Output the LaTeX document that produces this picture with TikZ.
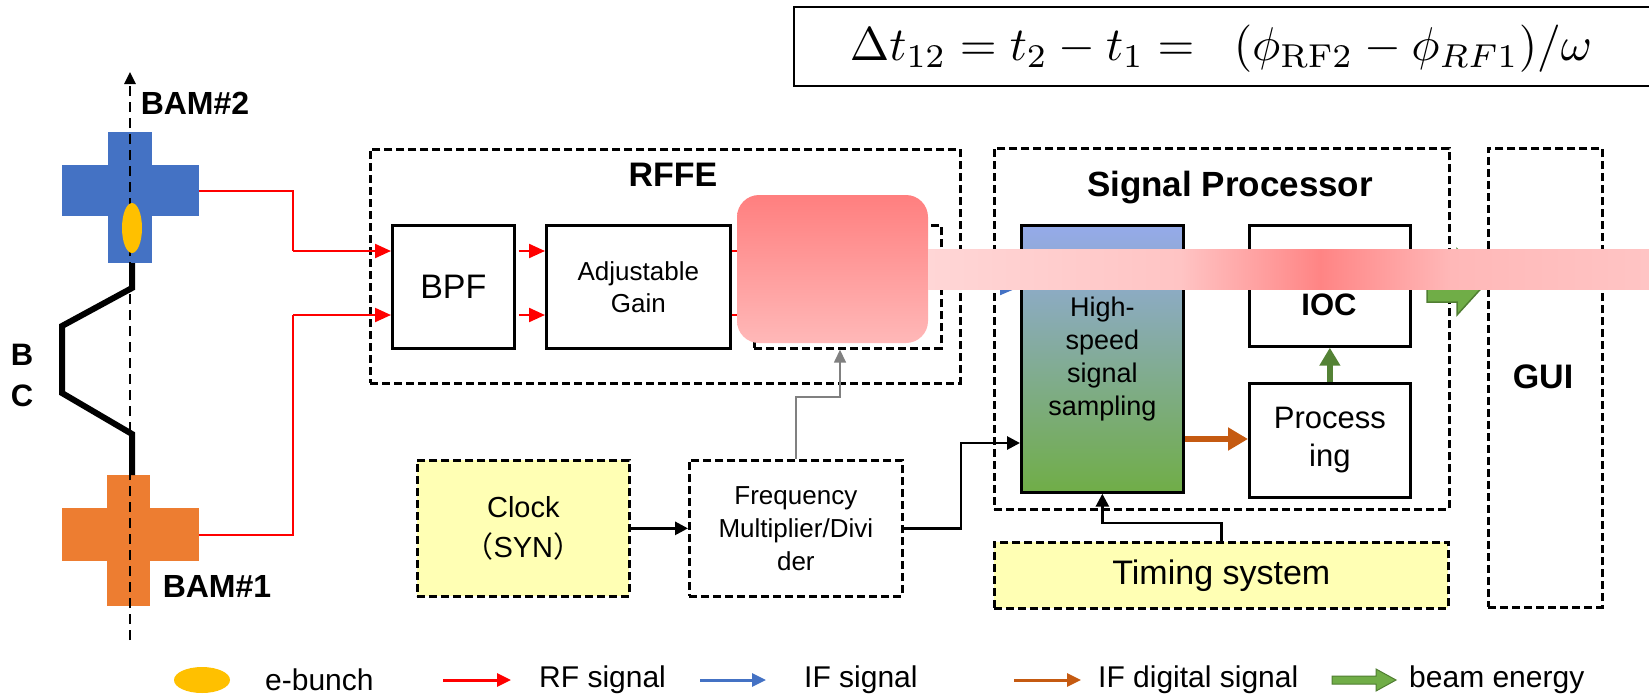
\documentclass[tikz,border=0pt]{standalone}
\usepackage[no-math]{fontspec}
\setmainfont{Liberation Sans}
\newfontfamily\cjk{Noto Sans CJK SC}
\usetikzlibrary{arrows.meta,shapes.geometric,calc}
\definecolor{bamblue}{RGB}{68,114,196}
\definecolor{bamorange}{RGB}{237,125,49}
\definecolor{bunch}{RGB}{255,192,0}
\definecolor{rfred}{RGB}{255,0,0}
\definecolor{ifblue}{RGB}{68,114,196}
\definecolor{digorange}{RGB}{197,90,17}
\definecolor{beamgreen}{RGB}{112,173,71}
\definecolor{beamgreendk}{RGB}{80,126,50}
\definecolor{arrowgreen}{RGB}{84,130,53}
\definecolor{clockyellow}{RGB}{255,255,180}
\definecolor{samptop}{RGB}{149,170,234}
\definecolor{sampbot}{RGB}{112,173,71}
\definecolor{arrgray}{RGB}{128,128,128}
\definecolor{pinkA}{RGB}{255,127,127}
\definecolor{pinkB}{RGB}{255,184,184}
\definecolor{pinkC}{RGB}{255,214,214}
\definecolor{pinkD}{RGB}{255,196,196}
\definecolor{pinkE}{RGB}{255,132,132}
\newcommand\setfs[1]{\fontsize{#1}{#1}\selectfont}
\begin{document}
\begin{tikzpicture}[x=1pt,y=-1pt,
  solidbox/.style={draw=black, line width=2.7pt, fill=white, inner sep=0pt, align=center, anchor=north west},
  dashbox/.style={draw=black, line width=2.7pt, dash pattern=on 8pt off 4pt, inner sep=0pt, align=center, anchor=north west},
  crossbar/.style={inner sep=0pt, anchor=north west},
  redarr/.style={draw=rfred, line width=2.2pt, -{Triangle[length=16pt,width=14pt]}},
  blkarr/.style={draw=black, line width=2.8pt, -{Triangle[length=13pt,width=13pt]}},
  grayarr/.style={draw=arrgray, line width=1.6pt, -{Triangle[length=13pt,width=12pt]}},
  lbl/.style={inner sep=0pt, font=\setfs{30}},
  boldlbl/.style={inner sep=0pt, font=\bfseries\setfs{34}}
]
\useasboundingbox (0,0) rectangle (1649,694);

% formula
\draw[line width=2pt] (1649,7) -- (794,7) -- (794,86) -- (1649,86);
\node[inner sep=0pt] (formula) at (1221,49)
  {\resizebox{742pt}{!}{$\Delta t_{12} = t_2 - t_1 = \;\; (\phi_{\mathrm{RF2}} - \phi_{RF1})/\omega$}};

% BAM crosses
\node[crossbar, fill=bamblue, minimum width=44, minimum height=131] (bam2v) at (108,132) {};
\node[crossbar, fill=bamblue, minimum width=137, minimum height=51] (bam2h) at (62,165) {};
\node[crossbar, fill=bamorange, minimum width=43, minimum height=131] (bam1v) at (107,475) {};
\node[crossbar, fill=bamorange, minimum width=137, minimum height=53] (bam1h) at (62,508) {};

% beam axis
\coordinate (axbot) at (130,640);
\coordinate (axtop) at (130,72);
\draw[line width=2.6pt, dash pattern=on 10pt off 6pt, -{Triangle[length=12pt,width=11pt]}] (axbot) -- (axtop);

% bunch compressor track
\draw[line width=6pt, line join=miter] (132,263) -- (132,288) -- (62,326) -- (62,393) -- (132,434) -- (132,475);
\node[ellipse, fill=bunch, inner sep=0pt, minimum width=20, minimum height=50] (ebunch) at (132,228) {};

\node[boldlbl, font=\bfseries\setfs{32}] (bam2lbl) at (195,103) {BAM\#2};
\node[boldlbl, font=\bfseries\setfs{32}] (bam1lbl) at (217,586) {BAM\#1};
\node[boldlbl, font=\bfseries\setfs{31}] (blbl) at (22,355) {B};
\node[boldlbl, font=\bfseries\setfs{31}] (clbl) at (22,396) {C};

% RFFE
\node[dashbox, minimum width=590, minimum height=234] (rffe) at (369,148) {};
\node[boldlbl] (rffelbl) at (673,175) {RFFE};
\node[solidbox, minimum width=122, minimum height=123, font=\setfs{34}] (bpf) at (391,224) {BPF};
\node[solidbox, minimum width=184, minimum height=123, font={\fontsize{26}{32}\selectfont}] (adj) at (545,224) {Adjustable\\Gain};
\node[dashbox, fill=white, minimum width=187, minimum height=123] (mix) at (753,224) {};

% RF signal paths
\coordinate (r1) at (293,251);
\coordinate (r2) at (293,315);
\draw[redarr, arrows=-] (bam2h.east) -| (r1);
\draw[redarr] (r1) -- (r1 -| bpf.west);
\draw[redarr, arrows=-] (bam1h.east) -| (r2);
\draw[redarr] (r2) -- (r2 -| bpf.west);
\draw[redarr] ($(r1 -| bpf.east)+(3,0)$) -- (r1 -| adj.west);
\draw[redarr] ($(r2 -| bpf.east)+(3,0)$) -- (r2 -| adj.west);
\draw[redarr] (r1 -| adj.east) -- (r1 -| mix.west);
\draw[redarr] (r2 -| adj.east) -- (r2 -| mix.west);

% Signal processor
\node[dashbox, minimum width=455, minimum height=361] (sp) at (993,147) {};
\node[boldlbl, font=\bfseries\setfs{35}] (splbl) at (1230,188) {Signal Processor};
\node[solidbox, top color=samptop, bottom color=sampbot, minimum width=162, minimum height=267, font={\fontsize{27}{33}\selectfont}] (samp) at (1020,224) {High-\\speed\\signal\\sampling};
\node[solidbox, minimum width=161, minimum height=121] (ioc) at (1248,224) {};
\node[boldlbl, font=\bfseries\setfs{31}] (ioclbl) at (1329,305) {IOC};
\node[solidbox, minimum width=161, minimum height=114, font={\fontsize{31}{38}\selectfont}] (proc) at (1248,382) {Process\\ing};

\draw[ifblue, line width=3pt, -{Triangle[length=20pt,width=16pt]}] (mix.east) -- (mix.east -| samp.west);
\coordinate (oy) at (0,439);
\draw[digorange, line width=6pt, -{Triangle[length=20pt,width=22pt]}] (samp.east |- oy) -- (proc.west |- oy);
\draw[arrowgreen, line width=6pt, -{Triangle[length=18pt,width=20pt]}] (proc.north) -- (ioc.south);

% GUI
\node[dashbox, minimum width=114, minimum height=459] (gui) at (1487,147) {};
\node[boldlbl] (guilbl) at (1543,377) {GUI};
\coordinate (gstart) at (1427,282);
\filldraw[fill=beamgreen, draw=beamgreendk, line width=1.5pt, line join=miter]
  (gstart) ++(0,-20) -- ++(30,0) -- ++(0,-13) -- (gui.west |- gstart) -- ++(-30,33) -- ++(0,-13) -- ++(-30,0) -- cycle;

% Timing
\node[dashbox, fill=clockyellow, minimum width=454, minimum height=66, font=\setfs{34}] (timing) at (993,541) {Timing system};
\draw[blkarr] (timing.north) -- ++(0,-18) -| (samp.south);

% Clock and frequency
\node[dashbox, fill=clockyellow, minimum width=212, minimum height=136, font={\fontsize{29}{40}\selectfont}] (clock) at (416,459) {Clock\\{\cjk （}SYN{\cjk ）}};
\node[dashbox, fill=white, minimum width=213, minimum height=136, font={\fontsize{26}{33}\selectfont}] (freq) at (688,459) {Frequency\\Multiplier/Divi\\der};
\draw[blkarr] (clock.east) -- (freq.west);
\coordinate (fc) at (961,443);
\draw[blkarr] (freq.east) -| (fc) -- (fc -| samp.west);
\coordinate (gc) at (840,397);
\draw[grayarr] (freq.north) |- (gc) -- (gc |- mix.south);

% redaction overlays
\shade[top color=pinkA, bottom color=pinkB, rounded corners=22pt] (737,195) rectangle (928,343);
\shade[left color=pinkC, right color=pinkD] (928,249) rectangle (1181,289);
\shade[left color=pinkD, right color=pinkE] (1180,249) rectangle (1321,289);
\shade[left color=pinkE, right color=pinkB] (1320,249) rectangle (1451,289);
\shade[left color=pinkB, right color=pinkD] (1450,249) rectangle (1649,289);

% legend
\node[ellipse, fill=bunch, inner sep=0pt, minimum width=56, minimum height=26] (legbunch) at (202,680) {};
\node[lbl, anchor=west] (legbunchtxt) at (265,680) {e-bunch};
\coordinate (lr1) at (443,680); \coordinate (lr2) at (511,680);
\draw[rfred, line width=3pt, -{Triangle[length=14pt,width=13pt]}] (lr1) -- (lr2);
\node[lbl, anchor=west] (legrf) at (539,680) {RF signal};
\coordinate (lb1) at (700,680); \coordinate (lb2) at (766,680);
\draw[ifblue, line width=3pt, -{Triangle[length=14pt,width=13pt]}] (lb1) -- (lb2);
\node[lbl, anchor=west] (legif) at (804,680) {IF signal};
\coordinate (lo1) at (1014,680); \coordinate (lo2) at (1081,680);
\draw[digorange, line width=3pt, -{Triangle[length=14pt,width=13pt]}] (lo1) -- (lo2);
\node[lbl, anchor=west] (legdig) at (1098,680) {IF digital signal};
\coordinate (lg1) at (1332,680);
\filldraw[fill=beamgreen, draw=beamgreendk, line width=1pt]
  (lg1) ++(0,-4) -- ++(44,0) -- ++(0,-7) -- ++(20,11) -- ++(-20,11) -- ++(0,-7) -- ++(-44,0) -- cycle;
\node[lbl, anchor=west] (legbeam) at (1409,680) {beam energy};
\end{tikzpicture}
\end{document}
